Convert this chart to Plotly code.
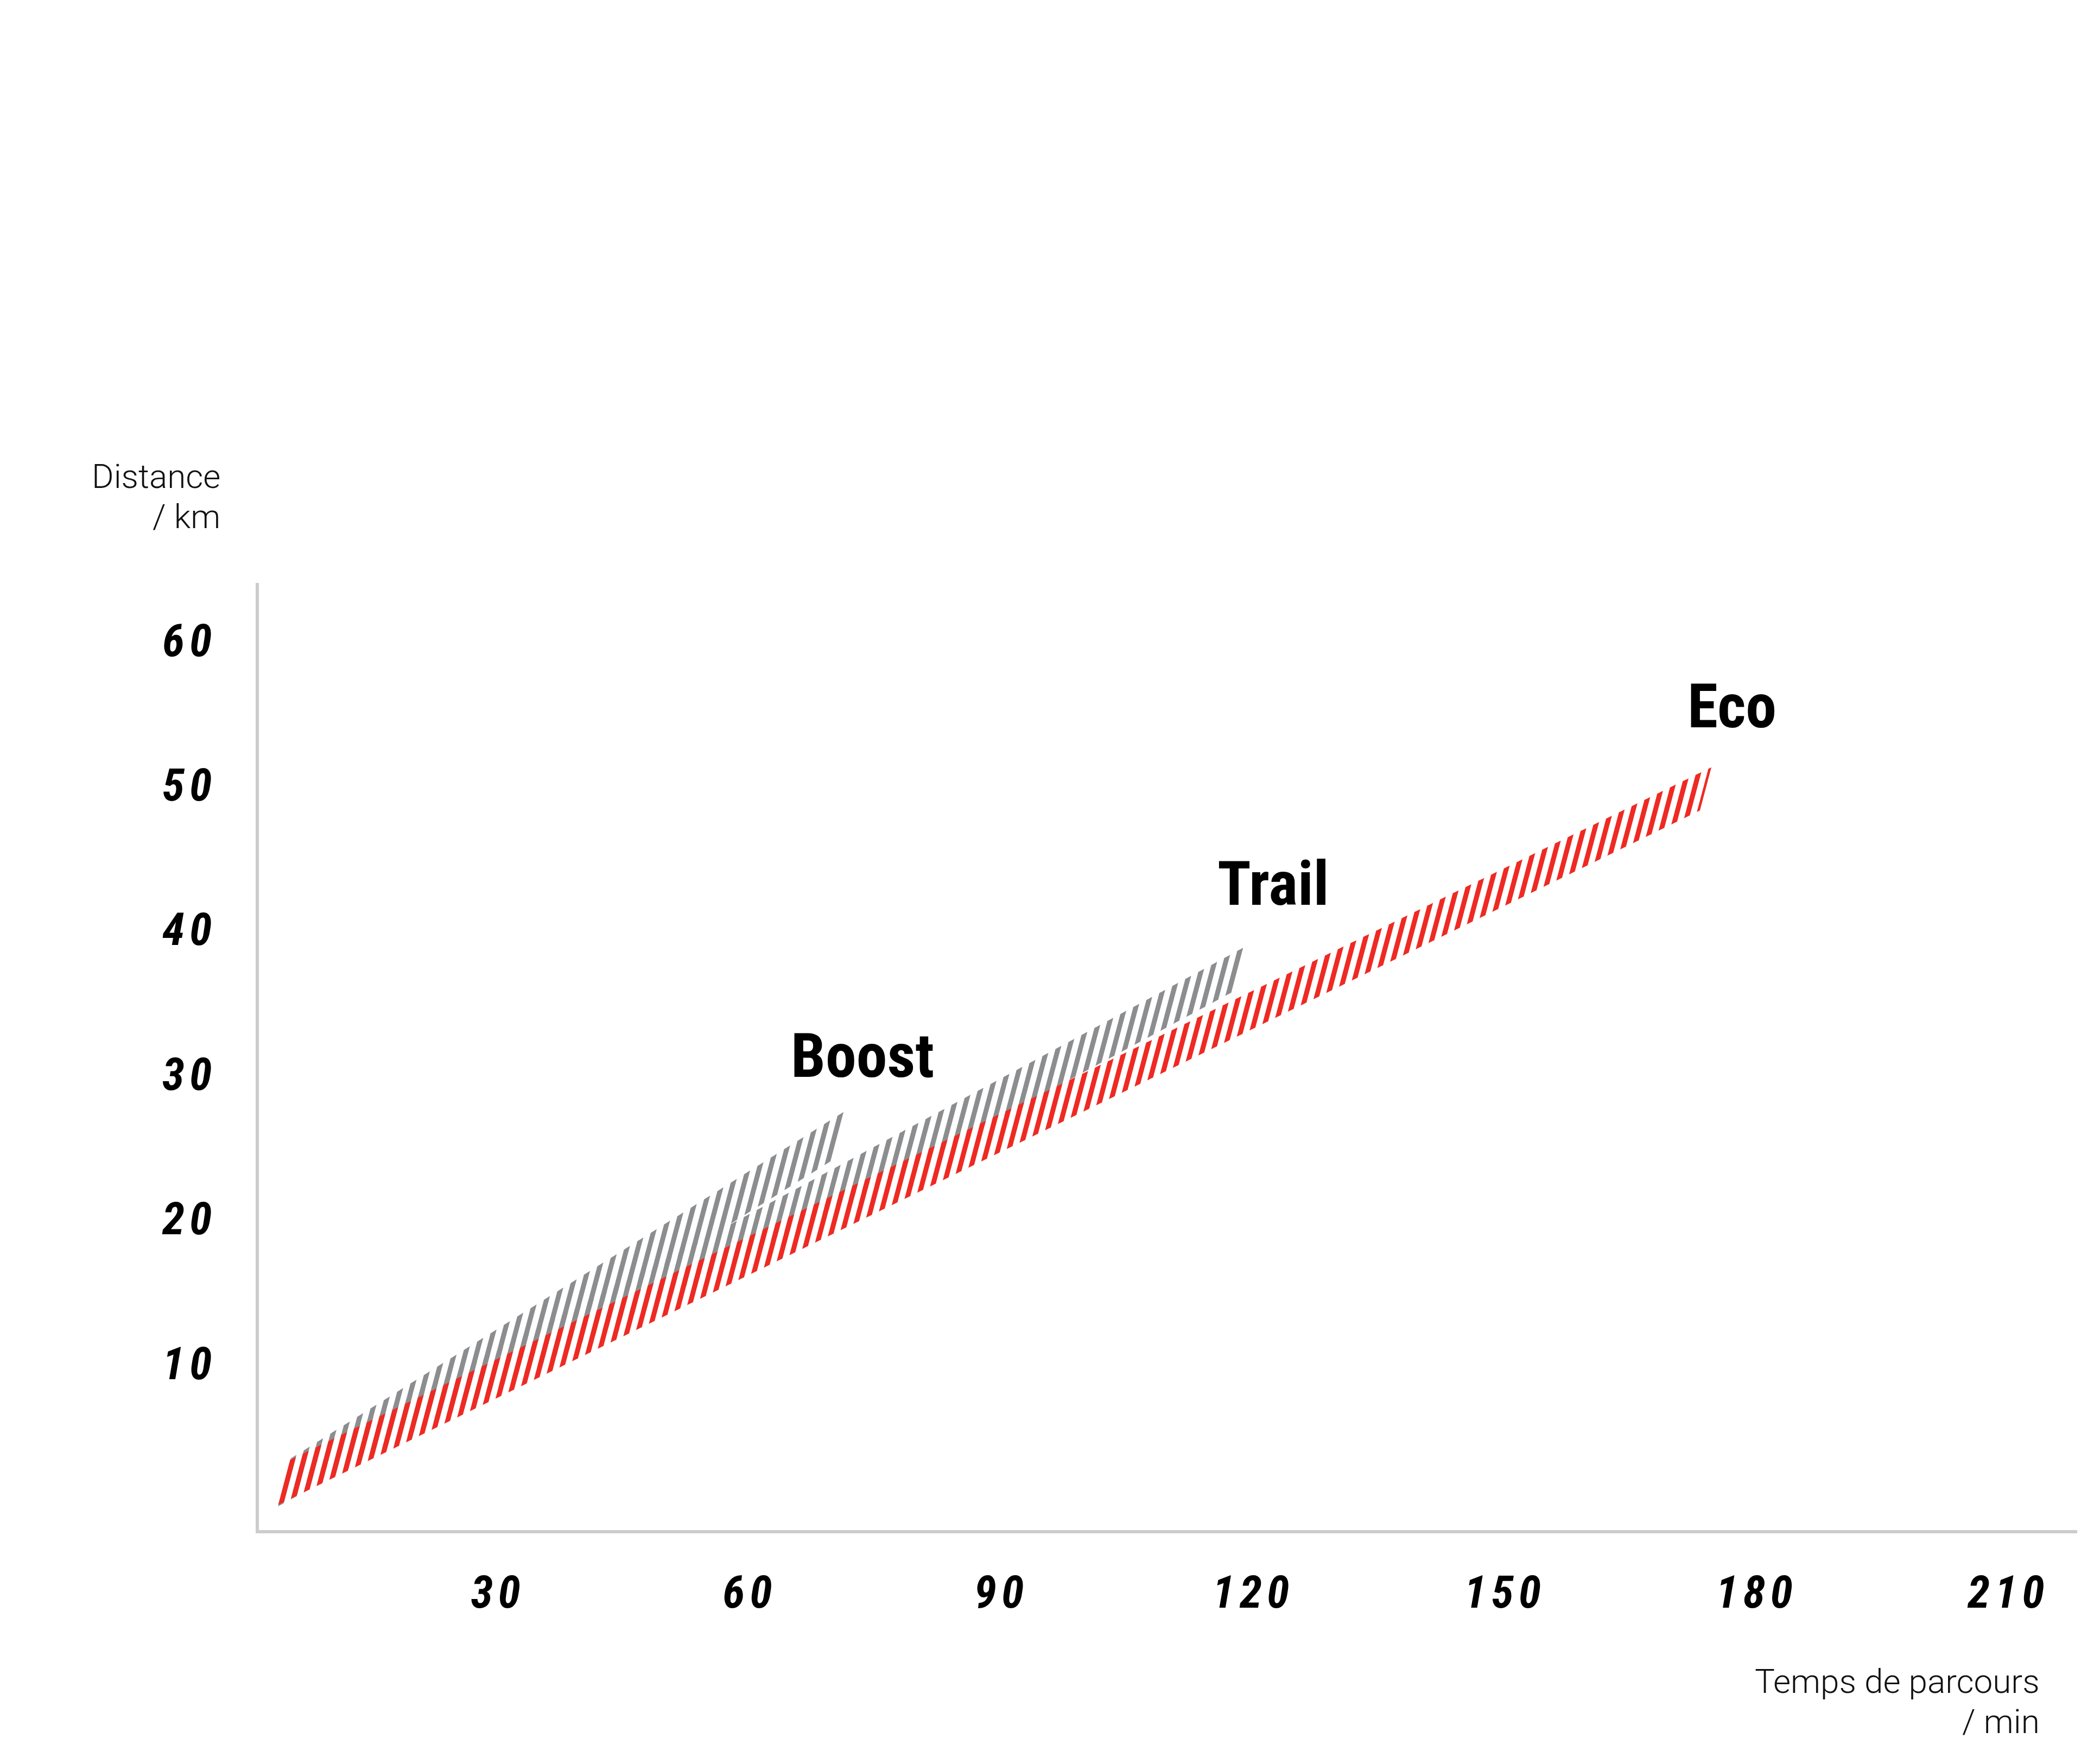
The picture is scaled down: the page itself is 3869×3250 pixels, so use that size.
import math
import plotly.graph_objects as go

# Travel time (min) vs distance (km) per assist mode.
# Each band is given by its lower and upper edge (two points each).
modes = ["Boost", "Trail", "Eco"]

boost_low_min = [4.1, 70.9]
boost_low_km = [0.1, 24.3]
boost_high_min = [5.6, 72.4]
boost_high_km = [3.4, 27.7]

trail_low_min = [4.1, 118.6]
trail_low_km = [0.1, 35.9]
trail_high_min = [5.6, 120.0]
trail_high_km = [3.2, 39.0]

eco_low_min = [4.1, 173.5]
eco_low_km = [0.2, 48.2]
eco_high_min = [5.5, 174.9]
eco_high_km = [3.3, 51.2]

x_ticks = [30, 60, 90, 120, 150, 180, 210]
y_ticks = [10, 20, 30, 40, 50, 60]

# Label anchor points (min, km)
label_min = [66.0, 116.8, 172.8]
label_km = [29.4, 41.3, 53.6]

# Figure geometry
W, H = 3869, 3250
L, R, T, B = 469, 50, 1066, 439
x_range = [1.8, 218.5]
y_range = [-1.55, 63.95]
px_per_min = (W - L - R) / (x_range[1] - x_range[0])
px_per_km = (H - T - B) / (y_range[1] - y_range[0])

# Hatch geometry in pixels -> data units
hatch_period_px = 20.5
hatch_width_px = 9.3
hatch_slant = 0.265  # horizontal px per vertical px
s = hatch_slant * px_per_km / px_per_min
P = hatch_period_px / px_per_min
Wd = hatch_width_px / px_per_min

RED = "#EE2A23"
GREY = "#8C8D8F"
AXIS = "#CCCCCC"

LABEL_FONT = "Roboto Condensed, DejaVu Sans Condensed, Roboto, sans-serif"
TEXT_FONT = "Roboto, Noto Sans, sans-serif"


def line_coeffs(ts, ds):
    b = (ds[1] - ds[0]) / (ts[1] - ts[0])
    return ds[0] - b * ts[0], b


def hit(c, a, b):
    # intersection of stripe line t = c + s*d with edge d = a + b*t
    t = (c + s * a) / (1 - s * b)
    return t, a + b * t


def stripes(low_t, low_d, high_t, high_d, c0):
    aL, bL = line_coeffs(low_t, low_d)
    aH, bH = line_coeffs(high_t, high_d)
    c_start = low_t[0] - s * low_d[0]
    c_end = high_t[1] - s * high_d[1]
    k0 = math.floor((c_start - c0) / P) - 1
    k1 = math.ceil((c_end - c0) / P) + 1
    xs, ys = [], []
    for k in range(k0, k1 + 1):
        cl = max(c0 + k * P, c_start)
        cr = min(c0 + k * P + Wd, c_end)
        # skip empty or sliver stripes at the band ends
        if cr - cl < 0.4 * Wd:
            continue
        pts = [hit(cl, aL, bL), hit(cl, aH, bH), hit(cr, aH, bH), hit(cr, aL, bL)]
        pts.append(pts[0])
        xs += [p[0] for p in pts] + [None]
        ys += [p[1] for p in pts] + [None]
    return xs, ys


c0 = eco_low_min[0] - s * eco_low_km[0]

bands = [
    (boost_low_min, boost_low_km, boost_high_min, boost_high_km, GREY),
    (trail_low_min, trail_low_km, trail_high_min, trail_high_km, GREY),
    (eco_low_min, eco_low_km, eco_high_min, eco_high_km, RED),
]

fig = go.Figure()
for name, (lt, ld, ht, hd, col) in zip(modes, bands):
    xs, ys = stripes(lt, ld, ht, hd, c0)
    fig.add_trace(go.Scatter(
        x=xs, y=ys, mode="lines", fill="toself", fillcolor=col,
        line=dict(width=0, color=col), name=name,
        hoverinfo="skip", showlegend=False,
    ))

for name, lx, ly in zip(modes, label_min, label_km):
    fig.add_annotation(
        x=lx, y=ly, xref="x", yref="y", text=name, showarrow=False,
        xanchor="left", yanchor="bottom", yshift=-20, xshift=-14,
        font=dict(family=LABEL_FONT, size=114, color="#000000", weight="bold"),
    )


def px_x(px):
    return (px - L) / (W - L - R)


def px_y(py):
    return 1 - (py - T) / (H - T - B)


# axis captions, one annotation per line
captions = [
    ("Distance", 400, 869),
    ("/ km", 400, 943),
    ("Temps de parcours", 3752, 3089),
    ("/ min", 3752, 3163),
]
for txt, cx, cy in captions:
    fig.add_annotation(
        x=px_x(cx), y=px_y(cy), xref="paper", yref="paper",
        text=txt, showarrow=False, xanchor="right", yanchor="middle",
        font=dict(family=TEXT_FONT, size=62, color="#111111", weight=300),
    )

tick_font = dict(family=LABEL_FONT, size=84, color="#000000", style="italic", weight="bold")

fig.update_layout(
    width=W, height=H,
    margin=dict(l=L, r=R, t=T, b=B, pad=0),
    paper_bgcolor="white", plot_bgcolor="white",
    xaxis=dict(
        range=x_range, showgrid=False, zeroline=False,
        showline=True, linecolor=AXIS, linewidth=6,
        tickvals=x_ticks, ticktext=["\u200a".join(str(v)) for v in x_ticks],
        ticks="", tickfont=tick_font, ticklabelstandoff=36,
    ),
    yaxis=dict(
        range=y_range, showgrid=False, zeroline=False,
        showline=True, linecolor=AXIS, linewidth=6,
        tickvals=y_ticks, ticktext=["\u200a".join(str(v)) for v in y_ticks],
        ticks="", tickfont=tick_font, ticklabelstandoff=64,
    ),
)

fig.write_html("out.html")
